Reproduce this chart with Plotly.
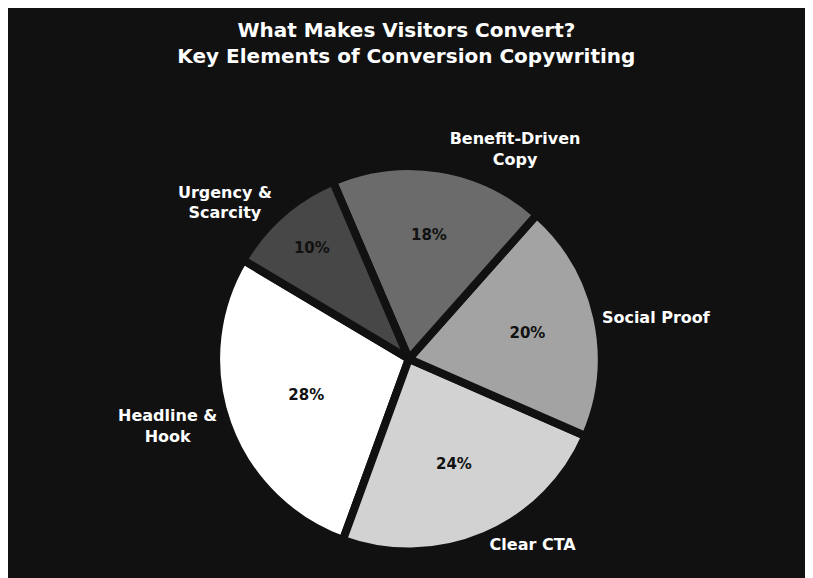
import plotly.graph_objects as go

labels = ["Headline &<br>Hook", "Clear CTA", "Social Proof", "Benefit-Driven<br>Copy", "Urgency &<br>Scarcity"]
values = [28, 24, 20, 18, 10]
colors = ["#ffffff", "#d2d2d2", "#a3a3a3", "#6b6b6b", "#474747"]

common = dict(
    labels=labels, values=values, sort=False, direction="counterclockwise",
    rotation=-160, domain=dict(x=[0.17, 0.81], y=[0.05, 0.84]),
    hole=0, showlegend=False,
)

fig = go.Figure()
fig.add_trace(go.Pie(
    **common,
    marker=dict(colors=colors, line=dict(color="#111111", width=8)),
    textinfo="percent", textposition="inside", insidetextorientation="horizontal",
    texttemplate="<b>%{percent:.0%}</b>",
    textfont=dict(family="DejaVu Sans", size=15, color="#111111"),
))
fig.add_trace(go.Pie(
    **common,
    marker=dict(colors=["rgba(0,0,0,0)"] * 5, line=dict(width=0)),
    textinfo="label", textposition="outside",
    texttemplate="<b>%{label}</b>",
    textfont=dict(family="DejaVu Sans", size=16, color="white"),
    hoverinfo="skip",
))
fig.update_layout(
    width=813, height=578,
    paper_bgcolor="#111111", plot_bgcolor="#111111",
    font=dict(family="DejaVu Sans", color="white"),
    title=dict(text="<b>What Makes Visitors Convert?<br>Key Elements of Conversion Copywriting</b>",
               x=0.49, y=0.95, xanchor="center", yanchor="top", font=dict(size=20, color="white")),
    margin=dict(l=10, r=10, t=80, b=10),
)
fig.write_html("out.html")
